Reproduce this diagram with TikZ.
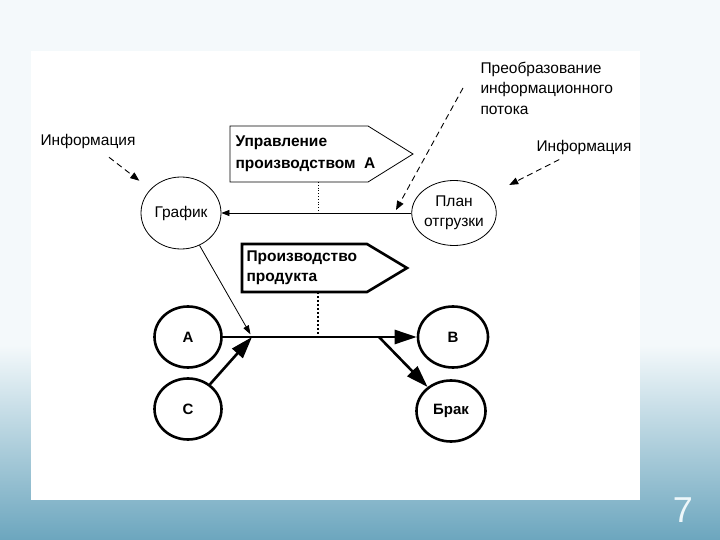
\documentclass[tikz,border=0pt]{standalone}
\usepackage{fontspec}
\setmainfont{Liberation Sans}
\usepackage{xcolor}
\definecolor{slidetop}{RGB}{244,249,251}
\definecolor{slideteal}{RGB}{108,166,190}
\definecolor{slidenum}{RGB}{238,247,250}
\usetikzlibrary{arrows.meta, calc, shapes.geometric}

\tikzset{
  stage/.style={ellipse, draw, line width=0.8pt, inner sep=0pt,
    font=\fontsize{15.5}{20.5}\selectfont, align=center},
  unit/.style={ellipse, draw, line width=2.6pt, inner sep=0pt,
    minimum width=67pt, minimum height=61pt,
    font=\bfseries\fontsize{15}{18}\selectfont},
  remark/.style={font=\fontsize{15.5}{20.5}\selectfont, align=left},
  signtext/.style={font=\bfseries\fontsize{15.5}{22}\selectfont, align=left, anchor=west},
  infoarrow/.style={draw, dash pattern=on 6pt off 4pt, line width=0.9pt,
    -{Triangle[length=9pt,width=7pt]}},
  flowarrow/.style={draw, line width=2.6pt, -{Triangle[length=22pt,width=14pt]}}
}

\begin{document}
\begin{tikzpicture}[x=1pt,y=-1pt]
  \useasboundingbox (0,0) rectangle (720,540);
  % slide background
  \fill[slidetop] (0,0) rectangle (720,345);
  \shade[top color=slidetop, bottom color=slideteal] (0,345) rectangle (720,540);
  \fill[white] (31,51) rectangle (640,500);
  \node[text=slidenum, font=\fontsize{36}{40}\selectfont] (slideno) at (683,510) {7};

  % information level
  \node[remark] (infoL) at (88,141) {Информация};
  \node[remark] (infoR) at (584,147) {Информация};
  \node[remark, anchor=west] (tfm) at (477,88) {Преобразование\\информационного\\потока};
  \node[stage, minimum width=80pt, minimum height=72pt] (graf) at (181,213) {График};
  \node[stage, minimum width=72pt, minimum height=65pt] (plan) at (454,213) {План\\отгрузки};

  \draw[line width=0.8pt] (230,126) -- (368,126) -- (413,154) -- (368,182) -- (230,182) -- cycle;
  \node[signtext] (mgmt) at (232,154) {Управление\\производством\ \ А};
  \coordinate (mgmtfoot) at (318,182);
  \coordinate (tfmtail) at (463,88);
  \coordinate (tfmtip) at (396,210);

  \path[line width=0.8pt]
    (plan) edge[-{Triangle[length=8pt,width=6pt]}] (graf)
    (mgmtfoot) edge[dotted] (mgmtfoot |- graf.east);
  \draw[infoarrow, shorten <=9pt, shorten >=14pt] (infoL) -- (graf);
  \draw[infoarrow, shorten <=4pt, shorten >=22pt] (infoR) -- (plan);
  \draw[infoarrow] (tfmtail) -- (tfmtip);

  % material level
  \node[unit] (A) at (188,337) {A};
  \node[unit, minimum width=70pt] (B) at (453,337) {B};
  \node[unit] (C) at (188,409) {C};
  \node[unit, minimum width=69pt] (brak) at (451,411) {Брак};

  \draw[line width=2.6pt] (242,244) -- (367,244) -- (407,268) -- (367,292) -- (242,292) -- cycle;
  \node[signtext, font=\bfseries\fontsize{15.5}{20}\selectfont] (prod) at (243,268) {Производство\\продукта};
  \coordinate (prodfoot) at (318,292);
  \coordinate (hub) at (252,337);
  \coordinate (fork) at (379,337);

  \draw[flowarrow] (A) -- (B);
  \draw[flowarrow] (C) -- (hub);
  \draw[flowarrow] (fork) -- (brak);
  \draw[line width=0.8pt, -{Triangle[length=9pt,width=6pt]}, shorten >=3pt] (graf) -- (hub);
  \draw[line width=2pt, dash pattern=on 2pt off 2pt] (prodfoot) -- (prodfoot |- A.east);
\end{tikzpicture}
\end{document}
